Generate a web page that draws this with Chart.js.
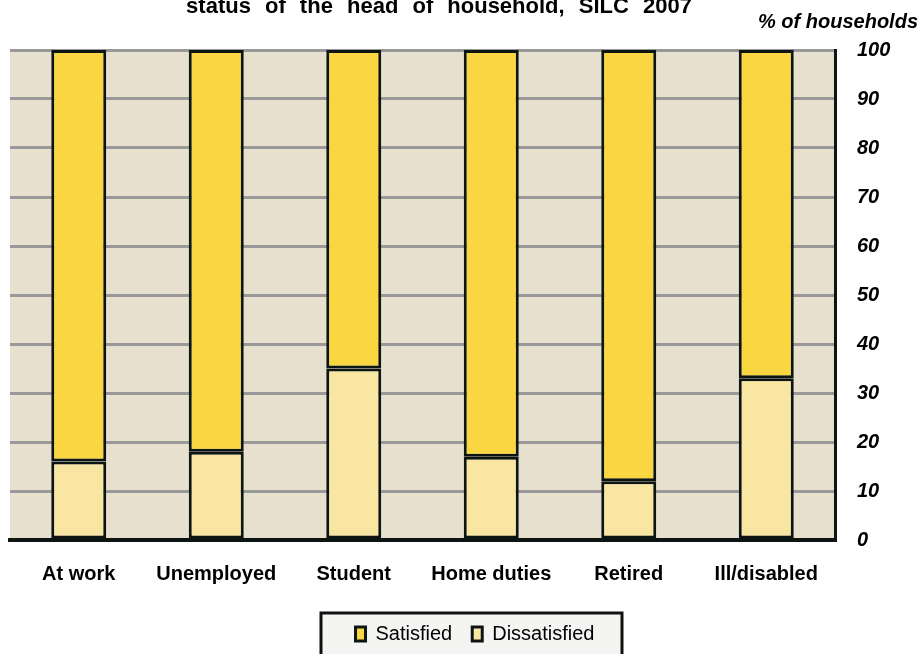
<!DOCTYPE html>
<html>
<head>
<meta charset="utf-8">
<script src="https://cdn.jsdelivr.net/npm/chart.js@4/dist/chart.umd.min.js"></script>
<style>
  html, body { margin: 0; padding: 0; background: #ffffff; }
  #wrap { position: relative; width: 922px; height: 654px; }
</style>
</head>
<body>
<div id="wrap"><canvas id="chart"></canvas></div>
<script>
// data
var categories = ['At work', 'Unemployed', 'Student', 'Home duties', 'Retired', 'Ill/disabled'];
var dissatisfied = [16, 18, 35, 17, 12, 33];
var satisfied = [84, 82, 65, 83, 88, 67];
var yTicks = [0, 10, 20, 30, 40, 50, 60, 70, 80, 90, 100];

var FONT = "Arial, 'Liberation Sans', sans-serif";

// plot background, legend frame, title texts
var decor = {
  id: 'decor',
  afterLayout: function(chart) {
    // nudge legend items into the framed box
    var lg = chart.legend;
    lg.left += 9; lg.right += 9;
  },
  beforeDraw: function(chart) {
    var ctx = chart.ctx, a = chart.chartArea;
    ctx.save();
    ctx.fillStyle = '#e7e0cf';
    ctx.fillRect(a.left, a.top, a.right - a.left, a.bottom - a.top);
    // frame around legend
    ctx.fillStyle = '#f4f4f2';
    ctx.strokeStyle = '#111';
    ctx.lineWidth = 3;
    ctx.fillRect(321, 613, 301, 45);
    ctx.strokeRect(321, 613, 301, 45);
    ctx.restore();
  },
  afterDraw: function(chart) {
    var ctx = chart.ctx;
    ctx.save();
    ctx.fillStyle = '#000';
    ctx.textBaseline = 'alphabetic';
    ctx.wordSpacing = '8px';
    ctx.font = 'bold 22px ' + FONT;
    ctx.textAlign = 'center';
    ctx.fillText('status of the head of household, SILC 2007', 439, 13);
    ctx.wordSpacing = '0px';
    ctx.font = 'italic bold 20px ' + FONT;
    ctx.textAlign = 'right';
    ctx.fillText('% of households', 918, 28);
    ctx.restore();
  }
};

new Chart(document.getElementById('chart'), {
  type: 'bar',
  data: {
    labels: categories,
    datasets: [
      {
        label: 'Dissatisfied',
        data: dissatisfied,
        backgroundColor: '#f9e6a3',
        borderColor: '#0d1512',
        borderWidth: 3,
        borderSkipped: false
      },
      {
        label: 'Satisfied',
        data: satisfied,
        backgroundColor: '#fad640',
        borderColor: '#0d1512',
        borderWidth: 3,
        borderSkipped: false
      }
    ]
  },
  options: {
    responsive: true,
    maintainAspectRatio: false,
    animation: false,
    layout: { padding: { left: 10, top: 50, right: 0, bottom: 0 } },
    datasets: { bar: { categoryPercentage: 1, barPercentage: 0.4 } },
    plugins: {
      title: { display: false },
      tooltip: { enabled: false },
      legend: {
        position: 'bottom',
        reverse: true,
        labels: {
          color: '#000',
          font: { family: FONT, size: 20 },
          boxWidth: 10,
          boxHeight: 14,
          padding: 20
        }
      }
    },
    scales: {
      x: {
        stacked: true,
        grid: { display: false },
        border: { color: '#0d1512', width: 4 },
        ticks: {
          color: '#000',
          padding: 14,
          maxRotation: 0,
          font: { family: FONT, size: 20, weight: 'bold' }
        },
        afterFit: function(scale) { scale.height = 64; }
      },
      y: {
        stacked: true,
        position: 'right',
        min: 0,
        max: 100,
        afterBuildTicks: function(scale) {
          scale.ticks = yTicks.map(function(v) { return { value: v }; });
        },
        grid: { color: '#999999', lineWidth: 3, drawTicks: false },
        border: { color: '#0d1512', width: 3 },
        ticks: {
          color: '#000',
          padding: 22,
          font: { family: FONT, size: 20, weight: 'bold', style: 'italic' }
        },
        afterFit: function(scale) { scale.width = 87; }
      }
    }
  },
  plugins: [decor]
});
</script>
</body>
</html>
